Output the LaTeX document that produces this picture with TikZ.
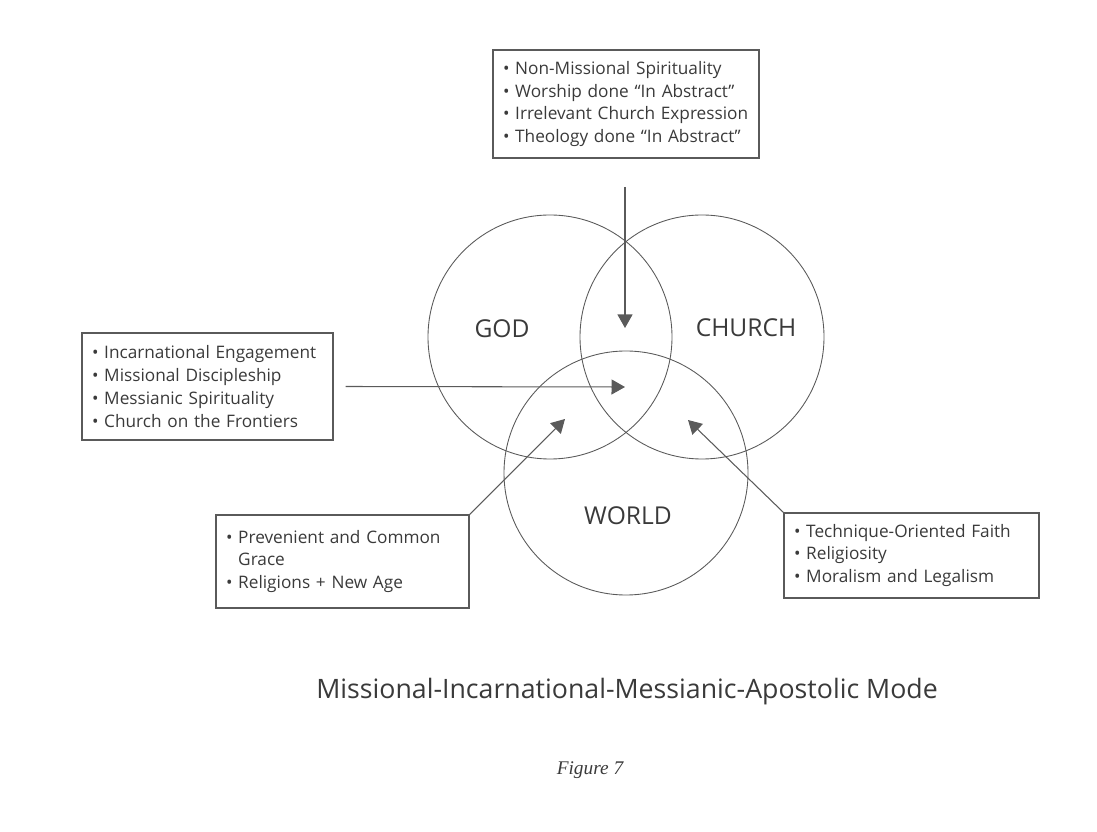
\documentclass[tikz,border=0pt]{standalone}
\usepackage{fontspec}
\setmainfont{Open Sans}
\newfontfamily\figfont{Liberation Serif}
\usetikzlibrary
  {
    arrows.meta,              % triangle arrow heads
  }
\definecolor{ink}{HTML}{3A3A3A}
\definecolor{rule}{HTML}{5A5A5A}
\newcommand\bul{\textbullet\ }
\newcommand\cont{\phantom{\textbullet}\ }

\begin{document}
\begin{tikzpicture}
    [
      text=ink,
      ring/.style=
        {
          circle,
          minimum size=4.88cm,
          draw=rule,
          line width=0.5pt,
        },
      ringname/.style=
        {
          font=\fontsize{14}{16}\selectfont,
        },
      listbox/.style=
        {
          rectangle,
          draw=rule,
          line width=0.6pt,
          align=left,
          inner xsep=0.2cm,
          font=\fontsize{9.8}{13}\selectfont,
        },
      pointer/.style=
        {
          draw=rule,
          line width=0.6pt,
          -{Triangle[length=2.7mm,width=3mm]},
        }
    ]
    \useasboundingbox (0,0) rectangle (21.94,-16.64);

    \node (god) [ring] at (11.00,-6.74) {};
    \node (church) [ring] at (14.04,-6.74) {};
    \node (world) [ring] at (12.52,-9.46) {};

    \node (godname) [ringname] at (10.04,-6.58) {GOD};
    \node (churchname) [ringname] at (14.92,-6.56) {CHURCH};
    \node (worldname) [ringname] at (12.56,-10.32) {WORLD};

    \node (nonmis) [listbox, text width=4.92cm, minimum height=2.16cm] at (12.52,-2.08)
      {\bul Non-Missional Spirituality\\
       \bul Worship done ``In Abstract''\\
       \bul Irrelevant Church Expression\\
       \bul Theology done ``In Abstract''};
    \node (incarn) [listbox, text width=4.62cm, minimum height=2.14cm] at (4.15,-7.73)
      {\bul Incarnational Engagement\\
       \bul Missional Discipleship\\
       \bul Messianic Spirituality\\
       \bul Church on the Frontiers};
    \node (grace) [listbox, text width=4.66cm, minimum height=1.86cm] at (6.85,-11.23)
      {\bul Prevenient and Common\\
       \cont Grace\\
       \bul Religions + New Age};
    \node (techn) [listbox, text width=4.70cm, minimum height=1.70cm] at (18.23,-11.11)
      {\bul Technique-Oriented Faith\\
       \bul Religiosity\\
       \bul Moralism and Legalism};

    % arrow ends inside the overlaps
    \coordinate (topstart) at (12.50,-3.74);
    \coordinate (toptip) at (12.50,-6.56);
    \coordinate (midtip) at (12.50,-7.74);
    \coordinate (lefttip) at (11.30,-8.38);
    \coordinate (righttip) at (13.76,-8.40);

    \draw [pointer] (topstart) -- (toptip);
    \draw [pointer] ([xshift=2.4mm]incarn.east) -- (midtip);
    \draw [pointer] (grace.north east) -- (lefttip);
    \draw [pointer] (techn.north west) -- (righttip);

    \node (mode) [font=\fontsize{15.2}{17}\selectfont] at (12.54,-13.84)
      {Missional-Incarnational-Messianic-Apostolic Mode};
    \node (fig) [font=\figfont\itshape\fontsize{11}{13}\selectfont] at (11.80,-15.40)
      {Figure 7};
  \end{tikzpicture}
\end{document}
